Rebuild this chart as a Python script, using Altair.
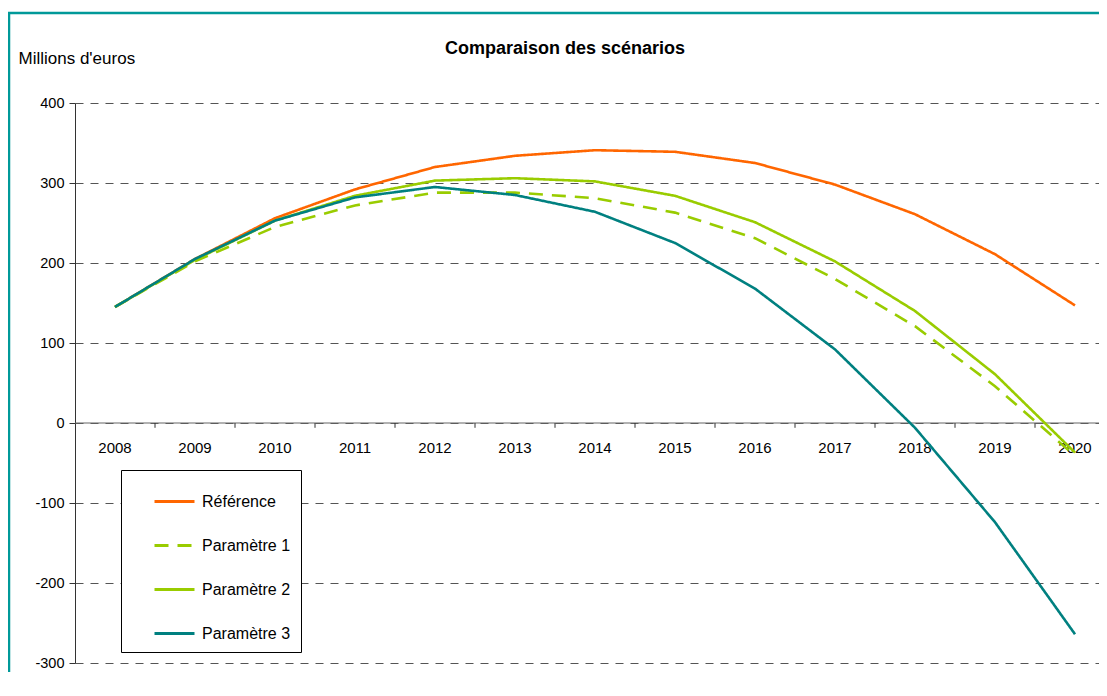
import altair as alt
import pandas as pd

years = [2008, 2009, 2010, 2011, 2012, 2013, 2014, 2015, 2016, 2017, 2018, 2019, 2020]
series_names = ["Référence", "Paramètre 1", "Paramètre 2", "Paramètre 3"]
reference = [145, 205, 256, 292, 320, 334, 341, 339, 325, 298, 261, 211, 147]
param1 = [145, 202, 245, 272, 288, 288, 281, 263, 231, 180, 121, 46, -41]
param2 = [145, 204, 253, 284, 303, 306, 302, 284, 251, 202, 140, 61, -37]
param3 = [145, 205, 253, 282, 295, 285, 264, 225, 168, 92, -6, -124, -264]
series_colors = ["#FF6600", "#99CC00", "#99CC00", "#008080"]
series_dashes = [[1, 0], [14, 9], [1, 0], [1, 0]]
y_ticks = [-300, -200, -100, 0, 100, 200, 300, 400]
x_boundaries = [2008.5, 2009.5, 2010.5, 2011.5, 2012.5, 2013.5, 2014.5, 2015.5,
                2016.5, 2017.5, 2018.5, 2019.5]

rows = []
for name, vals in zip(series_names, [reference, param1, param2, param3]):
    for yr, v in zip(years, vals):
        rows.append({"Année": yr, "Valeur": v, "Série": name})
df = pd.DataFrame(rows)

FONT = "Liberation Sans"
W, H = 1024, 560
x_scale = alt.Scale(domain=[2007.5, 2020.3], nice=False, zero=False)
y_scale = alt.Scale(domain=[-300, 400], nice=False, zero=False)

frame = alt.Chart(pd.DataFrame({"a": [0]})).mark_rect(
    fill=None, stroke="#009999", strokeWidth=2.5, clip=False
).encode(
    x=alt.value(-66), x2=alt.value(1200), y=alt.value(-90), y2=alt.value(800)
)

base_axis = alt.Chart(pd.DataFrame({"v": [0]})).mark_point(opacity=0).encode(
    x=alt.X("v:Q", scale=x_scale, axis=None),
    y=alt.Y("v:Q", scale=y_scale,
            axis=alt.Axis(values=y_ticks, title="Millions d'euros", titleAngle=0,
                          titleX=-57, titleY=-45, titleAlign="left",
                          titleBaseline="middle", titleFontSize=17,
                          titleFontWeight="normal", titleFont=FONT,
                          titleColor="#000000",
                          labelExpr="datum.value < 0 ? '-' + abs(datum.value) : datum.label",
                          grid=True, gridDash=[8, 7], gridColor="#555555",
                          gridWidth=1, domainColor="#333333", tickColor="#333333",
                          tickSize=6, labelFontSize=14.5, labelFont=FONT,
                          labelColor="#000000", labelPadding=5)),
)

zero_line = alt.Chart(pd.DataFrame({"v": [0]})).mark_rule(
    color="#666666", strokeWidth=1.2
).encode(y=alt.Y("v:Q", scale=y_scale))

ticks = alt.Chart(pd.DataFrame({"b": x_boundaries})).mark_rule(
    color="#333333", strokeWidth=1
).encode(
    x=alt.X("b:Q", scale=x_scale),
    y=alt.datum(0),
    y2=alt.datum(-6),
)

x_labels = alt.Chart(pd.DataFrame({"yr": years})).mark_text(
    fontSize=15, font=FONT, color="#000000", dy=25, baseline="middle"
).encode(
    x=alt.X("yr:Q", scale=x_scale),
    y=alt.datum(0),
    text=alt.Text("yr:N"),
)

lines = alt.Chart(df).mark_line(strokeWidth=2.6).encode(
    x=alt.X("Année:Q", scale=x_scale),
    y=alt.Y("Valeur:Q", scale=y_scale),
    color=alt.Color("Série:N", sort=series_names,
                    scale=alt.Scale(domain=series_names, range=series_colors),
                    legend=alt.Legend(title=None)),
    strokeDash=alt.StrokeDash("Série:N", sort=series_names,
                              scale=alt.Scale(domain=series_names, range=series_dashes),
                              legend=alt.Legend(title=None)),
    order=alt.Order("Année:Q"),
)

chart = alt.layer(frame, base_axis, zero_line, ticks, x_labels, lines).properties(
    width=W,
    height=H,
    padding={"left": 67, "top": 95, "right": 0, "bottom": 9},
    autosize=alt.AutoSizeParams(type="none"),
    title=alt.TitleParams(
        text="Comparaison des scénarios", fontSize=18, font=FONT,
        fontWeight="bold", color="#000000", anchor="middle", frame="group",
        dx=-22, offset=0, dy=46,
    ),
).configure_view(stroke=None).configure_legend(
    orient="none", legendX=46, legendY=367,
    padding=10, strokeColor="#000000", fillColor="#FFFFFF",
    symbolType="stroke", symbolSize=1600, symbolStrokeWidth=3,
    symbolOffset=22, labelOffset=6, rowPadding=14,
    labelFontSize=16, labelFont=FONT, labelColor="#000000", cornerRadius=0,
)

chart.save("out.html", embed_options={"renderer": "svg", "actions": False})
